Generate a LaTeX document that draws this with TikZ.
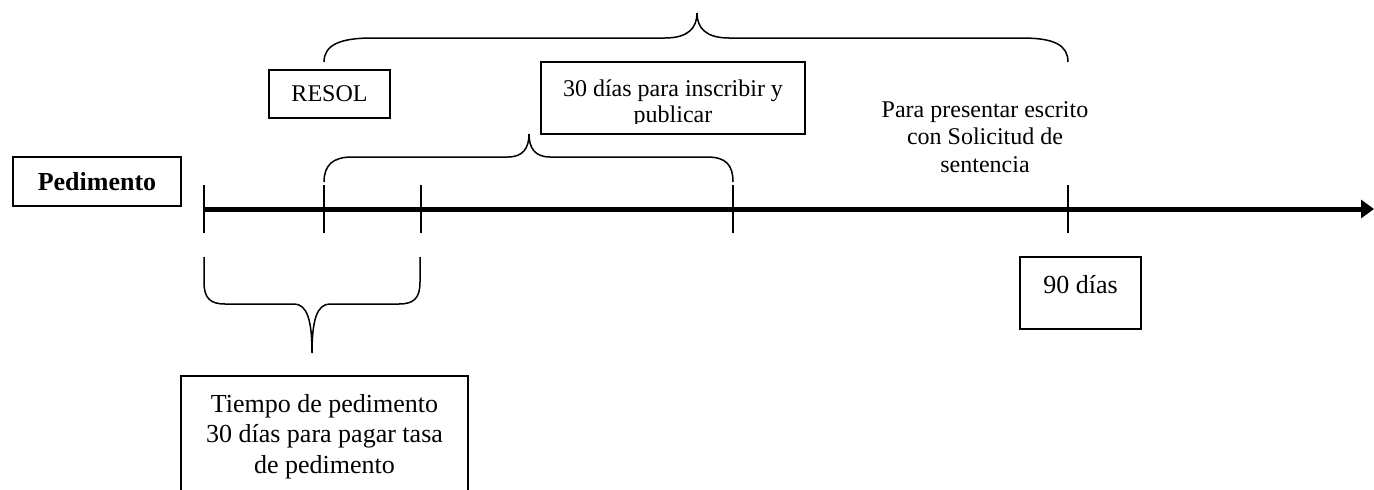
\documentclass[tikz,border=0pt]{standalone}
\usepackage{fontspec}
\setmainfont{Liberation Serif}
\usetikzlibrary{arrows.meta}
\begin{document}
\begin{tikzpicture}[x=1pt,y=-1pt,
  boxed/.style={draw, line width=1.5pt, inner sep=0pt},
  txt/.style={align=center, inner sep=0pt},
  br/.style={line width=1.5pt},
  tick/.style={line width=1.4pt},
  fs/.style={font=\fontsize{24}{26}\selectfont},
  fp/.style={font=\fontsize{24}{27.5}\selectfont},
  fl/.style={font=\fontsize{26}{30.5}\selectfont}]
\clip (0,0) rectangle (1374,490);
\fill[white] (0,0) rectangle (1374,490);
% boxes
\node[boxed, minimum width=168pt, minimum height=49pt, font=\fontsize{26}{30}\selectfont\bfseries] (ped) at (97,181.5) {Pedimento};
\node[boxed, minimum width=121pt, minimum height=48pt, fs] (resol) at (329.5,94) {RESOL};
\node[boxed, minimum width=264pt, minimum height=72pt] (insc) at (673,98) {};
\begin{scope}
\clip (541,62) rectangle (805,123);
\node[txt, fs, anchor=base] (insct) at (673,122) {30 días para inscribir y\\publicar};
\end{scope}
\node[boxed, minimum width=121pt, minimum height=72pt] (nov) at (1080.5,293) {};
\node[txt, fl, anchor=base] (novt) at (1080.5,293) {90 días};
\node[boxed, minimum width=287pt, minimum height=140pt] (tiem) at (324.5,446) {};
\node[txt, fl, anchor=base] (tiemt) at (324.5,473) {Tiempo de pedimento\\30 días para pagar tasa\\de pedimento};
\node[txt, fp, anchor=base] (para) at (985,172) {Para presentar escrito\\con Solicitud de\\sentencia};
% timeline
\coordinate (t0) at (204,209);
\coordinate (tend) at (1374,209);
\draw[line width=5pt, -{Triangle[length=13pt,width=18pt]}] (t0) -- (tend);
\foreach \x/\n in {204/a,324/b,421/c,733/d,1068/e}{
  \coordinate (\n top) at (\x,185);
  \coordinate (\n bot) at (\x,233);
  \draw[tick] (\n top) -- (\n bot);
}
% big brace
\coordinate (b1l) at (324,62);
\coordinate (b1r) at (1068,62);
\draw[br] (b1l) .. controls (324,45) and (340,38) .. (372,38) -- (665,38)
  .. controls (688,38) and (697,28) .. (697,13)
  .. controls (697,28) and (706,38) .. (729,38) -- (1022,38)
  .. controls (1054,38) and (1068,45) .. (b1r);
% middle brace
\coordinate (b2l) at (324,182);
\coordinate (b2r) at (733,182);
\draw[br] (b2l) .. controls (324,165) and (333,157) .. (352,157) -- (508,157)
  .. controls (523,157) and (529,148) .. (529,134)
  .. controls (529,148) and (535,157) .. (550,157) -- (707,157)
  .. controls (726,157) and (733,165) .. (b2r);
% lower brace
\coordinate (b3l) at (204,257);
\coordinate (b3r) at (420,257);
\draw[br] (b3l) -- (204,282) .. controls (204,298) and (210,304) .. (225,304) -- (294,304)
  .. controls (307,304) and (312,320) .. (312,353)
  .. controls (312,320) and (317,304) .. (330,304) -- (399,304)
  .. controls (414,304) and (420,298) .. (420,282) -- (b3r);
\end{tikzpicture}
\end{document}
